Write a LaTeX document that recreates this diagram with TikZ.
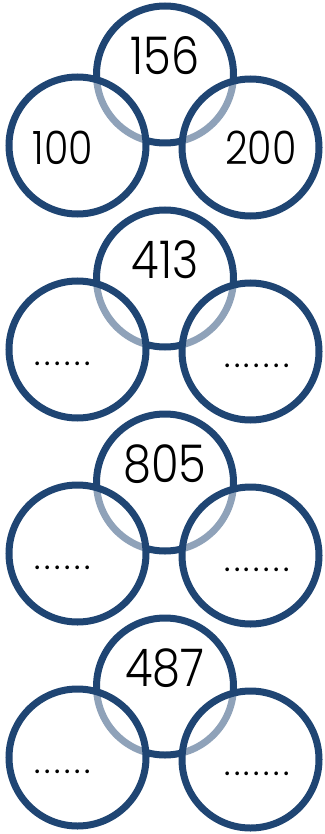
\documentclass[tikz,border=0pt]{standalone}
\usepackage{fontspec}
\setmainfont{Poppins Light}[FakeStretch=0.86]
\newfontfamily\dotfont{Poppins}[LetterSpace=12]
\usetikzlibrary{positioning}
\definecolor{ringblue}{RGB}{31,69,115}
\tikzset{
  ring/.style={draw=ringblue, line width=7pt, circle, minimum size=137pt, inner sep=0pt},
  lowring/.style={ring, fill=white, fill opacity=0.5},
  bignum/.style={font=\fontsize{52}{52}\selectfont, inner sep=0pt},
  smallnum/.style={font=\fontsize{46}{46}\selectfont, inner sep=0pt},
  blank/.style={font=\dotfont\fontsize{30}{30}\selectfont, inner sep=0pt}
}

\begin{document}
\begin{tikzpicture}[x=1pt, y=-1pt, on grid]
    \useasboundingbox (0,0) rectangle (324,834);

    % group 1
    \node[ring] (top1) at (165,74.5) {};
    \node[lowring, below left=71pt and 87.5pt of top1] (left1) {};
    \node[lowring, below right=73pt and 85.5pt of top1] (right1) {};
    \node[bignum, above=18.5pt of top1] (sum1) {156};
    \node[smallnum, below left=2pt and 14.5pt of left1] (part1a) {100};
    \node[smallnum, right=10.5pt of right1] (part1b) {200};

    % group 2
    \node[ring] (top2) at (165,278.5) {};
    \node[lowring, below left=71pt and 87.5pt of top2] (left2) {};
    \node[lowring, below right=73pt and 85.5pt of top2] (right2) {};
    \node[bignum, above=18.5pt of top2] (sum2) {413};
    \node[blank, below left=14pt and 15pt of left2] (part2a) {......};
    \node[blank, below right=14pt and 6.5pt of right2] (part2b) {.......};

    % group 3
    \node[ring] (top3) at (165,482.5) {};
    \node[lowring, below left=71pt and 87.5pt of top3] (left3) {};
    \node[lowring, below right=73pt and 85.5pt of top3] (right3) {};
    \node[bignum, above=18.5pt of top3] (sum3) {805};
    \node[blank, below left=14pt and 15pt of left3] (part3a) {......};
    \node[blank, below right=14pt and 6.5pt of right3] (part3b) {.......};

    % group 4
    \node[ring] (top4) at (165,686.5) {};
    \node[lowring, below left=71pt and 87.5pt of top4] (left4) {};
    \node[lowring, below right=73pt and 85.5pt of top4] (right4) {};
    \node[bignum, above=18.5pt of top4] (sum4) {487};
    \node[blank, below left=14pt and 15pt of left4] (part4a) {......};
    \node[blank, below right=14pt and 6.5pt of right4] (part4b) {.......};
\end{tikzpicture}
\end{document}
